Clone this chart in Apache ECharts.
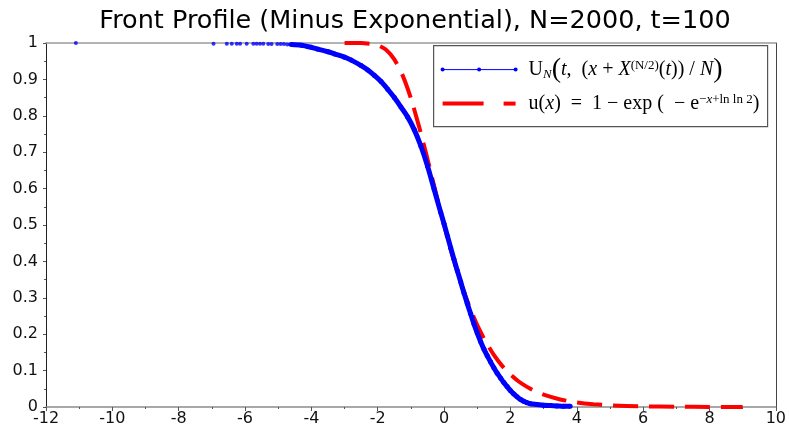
<!DOCTYPE html>
<html>
<head>
<meta charset="utf-8">
<script src="https://cdn.jsdelivr.net/npm/echarts@6/dist/echarts.min.js"></script>
<style>html,body{margin:0;padding:0;background:#fff;}#c{width:789px;height:437px;}</style>
</head>
<body>
<div id="c"></div>
<script>
// ---- data ----
const titleText = 'Front Profile (Minus Exponential), N=2000, t=100';
const xMin = -12, xMax = 10, xStep = 2;
const yMin = 0, yMax = 1, yStep = 0.1;

// sparse empirical points near u = 1
const blueTopX = [-11.1, -6.95, -6.55, -6.4, -6.25, -6.15, -5.95, -5.75, -5.65, -5.55, -5.45, -5.3, -5.2, -5.03, -4.93, -4.83, -4.73, -4.64];
const blueTopY = [1, 0.998, 0.998, 0.998, 0.998, 0.998, 0.998, 0.998, 0.998, 0.998, 0.998, 0.997, 0.997, 0.997, 0.997, 0.997, 0.996, 0.996];

// dense empirical profile U_N
const blueX = [-4.6, -4.3, -4.0, -3.8, -3.5, -3.3, -3.0, -2.8, -2.5, -2.3, -2.1, -1.9, -1.7, -1.5, -1.3, -1.1, -0.9, -0.7, -0.5, -0.3, -0.1, 0, 0.1, 0.2, 0.3, 0.4, 0.5, 0.6, 0.7, 0.8, 0.9, 1.0, 1.1, 1.2, 1.3, 1.4, 1.5, 1.6, 1.7, 1.8, 1.9, 2.0, 2.1, 2.2, 2.3, 2.4, 2.5, 2.6, 2.8, 3.0, 3.2, 3.4, 3.6, 3.8];
const blueY = [0.996, 0.994, 0.988, 0.983, 0.976, 0.970, 0.961, 0.953, 0.938, 0.926, 0.911, 0.894, 0.873, 0.850, 0.824, 0.797, 0.762, 0.717, 0.662, 0.598, 0.534, 0.503, 0.470, 0.437, 0.405, 0.374, 0.344, 0.313, 0.284, 0.256, 0.228, 0.203, 0.180, 0.159, 0.141, 0.124, 0.108, 0.093, 0.080, 0.067, 0.056, 0.045, 0.036, 0.028, 0.021, 0.016, 0.012, 0.009, 0.007, 0.005, 0.004, 0.003, 0.002, 0.002];

// limiting profile u(x)
const redX = [-3, -2.5, -2, -1.75, -1.5, -1.25, -1, -0.75, -0.5, -0.25, 0, 0.25, 0.5, 0.75, 1, 1.25, 1.5, 1.75, 2, 2.25, 2.5, 2.75, 3, 3.5, 4, 4.5, 5, 6, 7, 8, 9];
const redY = [1.0, 0.9998, 0.994, 0.9815, 0.955, 0.911, 0.848, 0.769, 0.681, 0.589, 0.5, 0.417, 0.343, 0.279, 0.225, 0.180, 0.143, 0.113, 0.0895, 0.070, 0.0553, 0.0434, 0.0339, 0.0207, 0.0126, 0.0077, 0.0047, 0.0017, 0.0006, 0.0002, 0.0001];

const zip = (a, b) => a.map((v, i) => [v, b[i]]);

const chart = echarts.init(document.getElementById('c'), null, {renderer: 'canvas'});
const labelFont = {fontFamily: 'DejaVu Sans', fontSize: 16, color: '#111'};
const serif = 'Liberation Serif';
const fs = 20;
const rich = {
  r: {fontFamily: serif, fontSize: fs, color: '#111', lineHeight: 28, verticalAlign: 'middle'},
  i: {fontFamily: serif, fontSize: fs, fontStyle: 'italic', color: '#111', lineHeight: 28, verticalAlign: 'middle'},
  big: {fontFamily: serif, fontSize: 28, color: '#111', lineHeight: 28, verticalAlign: 'middle'},
  sub: {fontFamily: serif, fontSize: 13, fontStyle: 'italic', color: '#111', lineHeight: 28, verticalAlign: 'bottom', padding: [0, 0, 3, 0]},
  sup: {fontFamily: serif, fontSize: 13, color: '#111', lineHeight: 28, verticalAlign: 'top', padding: [3, 0, 0, 0]},
  supi: {fontFamily: serif, fontSize: 13, fontStyle: 'italic', color: '#111', lineHeight: 28, verticalAlign: 'top', padding: [3, 0, 0, 0]}
};

chart.setOption({
  animation: false,
  backgroundColor: '#ffffff',
  title: {
    text: titleText,
    left: 410, top: 3, textAlign: 'center',
    textStyle: {fontFamily: 'DejaVu Sans', fontSize: 25.5, fontWeight: 'normal', color: '#000'}
  },
  grid: {left: 46, right: 13, top: 43, bottom: 30},
  xAxis: [{
    type: 'value', min: xMin, max: xMax, interval: xStep, position: 'bottom',
    axisLine: {show: true, onZero: false, lineStyle: {color: '#8c8c8c', width: 1.5}},
    axisTick: {show: true, length: 4, lineStyle: {color: '#555'}},
    minorTick: {show: true, splitNumber: 2, length: 2, lineStyle: {color: '#555'}},
    splitLine: {show: false},
    axisLabel: Object.assign({margin: 4}, labelFont)
  }, {
    type: 'value', min: xMin, max: xMax, interval: xStep, position: 'top',
    axisLine: {show: true, onZero: false, lineStyle: {color: '#9a9a9a', width: 1.5}},
    axisTick: {show: false}, axisLabel: {show: false}, splitLine: {show: false}
  }],
  yAxis: [{
    type: 'value', min: yMin, max: yMax, interval: yStep, position: 'left',
    axisLine: {show: true, onZero: false, lineStyle: {color: '#222', width: 1}},
    axisTick: {show: true, length: 3, lineStyle: {color: '#555'}},
    minorTick: {show: true, splitNumber: 2, length: 2, lineStyle: {color: '#555'}},
    splitLine: {show: false},
    axisLabel: Object.assign({margin: 8}, labelFont)
  }, {
    type: 'value', min: yMin, max: yMax, interval: yStep, position: 'right',
    axisLine: {show: true, onZero: false, lineStyle: {color: '#444', width: 1}},
    axisTick: {show: false}, axisLabel: {show: false}, splitLine: {show: false}
  }],
  series: [{
    name: 'u', type: 'line', data: zip(redX, redY), showSymbol: false, smooth: 0.2,
    lineStyle: {color: '#ff0000', width: 4, type: [25, 11]}, z: 3
  }, {
    name: 'U_N', type: 'line', data: zip(blueX, blueY), smooth: 0.3,
    symbol: 'circle', symbolSize: 5, showAllSymbol: true,
    itemStyle: {color: '#0000ff'},
    lineStyle: {color: '#0000ff', width: 5}, z: 4
  }, {
    name: 'U_N top', type: 'scatter', data: zip(blueTopX, blueTopY),
    symbol: 'circle', symbolSize: 4, itemStyle: {color: '#0000ff'}, z: 4
  }],
  graphic: [{
    type: 'group', left: 433, top: 45,
    children: [
      {type: 'rect', shape: {x: 0, y: 0, width: 334, height: 81}, style: {fill: '#fff', stroke: '#555', lineWidth: 1.2}},
      {type: 'line', shape: {x1: 9, y1: 24, x2: 82, y2: 24}, style: {stroke: '#0000ff', lineWidth: 1}},
      {type: 'circle', shape: {cx: 9, cy: 24, r: 2}, style: {fill: '#0000ff'}},
      {type: 'circle', shape: {cx: 45.5, cy: 24, r: 2}, style: {fill: '#0000ff'}},
      {type: 'circle', shape: {cx: 82, cy: 24, r: 2}, style: {fill: '#0000ff'}},
      {type: 'line', shape: {x1: 9, y1: 58, x2: 50, y2: 58}, style: {stroke: '#ff0000', lineWidth: 4}},
      {type: 'line', shape: {x1: 70, y1: 58, x2: 82, y2: 58}, style: {stroke: '#ff0000', lineWidth: 4}},
      {type: 'text', x: 95, y: 24, style: {
        text: '{r|U}{sub|N}{big|(}{i|t}{r|,  (}{i|x}{r| + }{i|X}{sup|(N/2)}{r|(}{i|t}{r|)) / }{i|N}{big|)}',
        rich: rich, verticalAlign: 'middle', align: 'left'}},
      {type: 'text', x: 95, y: 58, style: {
        text: '{r|u(}{i|x}{r|)  =  1 − exp (  − e}{sup|−}{supi|x}{sup|+ln ln 2}{r|)}',
        rich: rich, verticalAlign: 'middle', align: 'left'}}
    ]
  }]
});
</script>
</body>
</html>
